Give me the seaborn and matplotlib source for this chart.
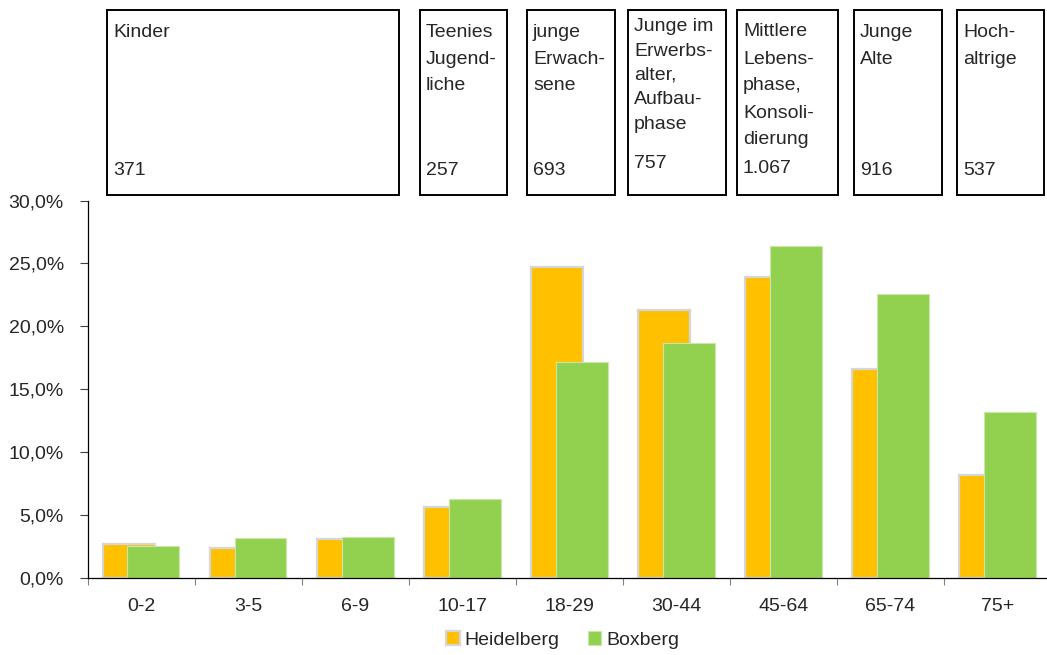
import numpy as np
import pandas as pd
import matplotlib
matplotlib.use("Agg")
import matplotlib.pyplot as plt
from matplotlib.patches import Rectangle
from matplotlib.ticker import MultipleLocator, FixedLocator, FuncFormatter
import seaborn as sns

# Age groups and share of population (%)
age_groups = ["0-2", "3-5", "6-9", "10-17", "18-29", "30-44", "45-64", "65-74", "75+"]
heidelberg = [2.7, 2.4, 3.1, 5.7, 24.7, 21.3, 23.9, 16.6, 8.2]
boxberg = [2.6, 3.2, 3.3, 6.3, 17.2, 18.7, 26.4, 22.6, 13.2]

# Life-phase groups with head counts shown above the chart
phase_names = [
    "Kinder",
    "Teenies\nJugend-\nliche",
    "junge\nErwach-\nsene",
    "Junge im\nErwerbs-\nalter,\nAufbau-\nphase",
    "Mittlere\nLebens-\nphase,\nKonsoli-\ndierung",
    "Junge\nAlte",
    "Hoch-\naltrige",
]
phase_counts = ["371", "257", "693", "757", "1.067", "916", "537"]

sns.set_style("white")
plt.rcParams["font.family"] = ["Liberation Sans", "DejaVu Sans"]
plt.rcParams["font.size"] = 14

W, H = 1047, 655
fig = plt.figure(figsize=(W / 100, H / 100), dpi=100)
ax_left, ax_right, ax_top, ax_bottom = 87.5, 1051, 200.5, 578.3
ax = fig.add_axes([ax_left / W, 1 - ax_bottom / H,
                   (ax_right - ax_left) / W, (ax_bottom - ax_top) / H])

df = pd.DataFrame({
    "Altersgruppe": age_groups * 2,
    "Anteil": heidelberg + boxberg,
    "Ort": ["Heidelberg"] * len(age_groups) + ["Boxberg"] * len(age_groups),
})
colors = {"Heidelberg": "#FFC000", "Boxberg": "#92D050"}

sns.barplot(data=df, x="Altersgruppe", y="Anteil", hue="Ort",
            hue_order=["Heidelberg", "Boxberg"], palette=colors,
            dodge=True, width=0.464, saturation=1, errorbar=None, ax=ax)

# Overlapping bars: keep dodge offsets, widen each bar around its centre
bar_w = 0.485
edge_styles = [("#D6D6D6", 1.6), ("#C9E8A8", 0.8)]
for cont, (ec, lw) in zip(ax.containers, edge_styles):
    for bar in cont:
        cx = bar.get_x() + bar.get_width() / 2
        bar.set_x(cx - bar_w / 2)
        bar.set_width(bar_w)
        bar.set_edgecolor(ec)
        bar.set_linewidth(lw)

ax.set_xlim(-0.5, len(age_groups) - 0.5)
ax.set_ylim(0, 30)
ax.set_xlabel("")
ax.set_ylabel("")

ax.yaxis.set_major_locator(MultipleLocator(5))
ax.yaxis.set_major_formatter(FuncFormatter(lambda v, _: f"{v:.1f}".replace(".", ",") + "%"))
ax.tick_params(axis="y", which="major", length=6, width=0.8, color="#404040",
               direction="out", pad=11, labelsize=14, left=True)

ax.xaxis.set_minor_locator(FixedLocator(np.arange(-0.5, len(age_groups), 1.0)))
ax.tick_params(axis="x", which="major", length=0, pad=14, labelsize=14, bottom=True)
ax.tick_params(axis="x", which="minor", length=5, width=0.8, color="#808080",
               direction="out", bottom=True)

for side in ["top", "right"]:
    ax.spines[side].set_visible(False)
for side in ["left", "bottom"]:
    ax.spines[side].set_color("black")
    ax.spines[side].set_linewidth(0.9)
ax.grid(False)

# Legend below the axis labels
handles, labels = ax.get_legend_handles_labels()
for h, (ec, lw) in zip(handles, edge_styles):
    h.set_edgecolor(ec)
    h.set_linewidth(lw)
ax.legend(handles, labels, loc="center", bbox_to_anchor=(0.5375, 1 - 640 / H),
          bbox_transform=fig.transFigure, ncol=2, frameon=False, fontsize=14,
          handlelength=0.7, handleheight=0.7, handletextpad=0.26,
          columnspacing=1.45, borderaxespad=0)

# Life-phase boxes above the plot (pixel layout)
box_x = [(107, 399), (420, 507), (527, 615), (628, 726), (737, 838), (854, 942), (957, 1044)]
box_top, box_bot = 10, 194.5
line_layout = [
    (37, 26.5, 175), (37, 26.5, 175), (37, 26.5, 175),
    (31, 24.5, 168), (36.5, 27, 173), (37, 26.5, 175), (37, 26.5, 175),
]


def fx(x):
    return x / W


def fy(y):
    return 1 - y / H


for (x0, x1), name, count, (b0, step, bnum) in zip(box_x, phase_names, phase_counts, line_layout):
    fig.add_artist(Rectangle((fx(x0), fy(box_bot)), fx(x1) - fx(x0), fy(box_top) - fy(box_bot),
                             transform=fig.transFigure, fill=False,
                             edgecolor="black", linewidth=1.4))
    for i, line in enumerate(name.split("\n")):
        fig.text(fx(x0 + 6), fy(b0 + i * step), line, fontsize=14,
                 ha="left", va="baseline")
    fig.text(fx(x0 + 6), fy(bnum), count, fontsize=14, ha="left", va="baseline")

fig.savefig("out.png", dpi=100)
